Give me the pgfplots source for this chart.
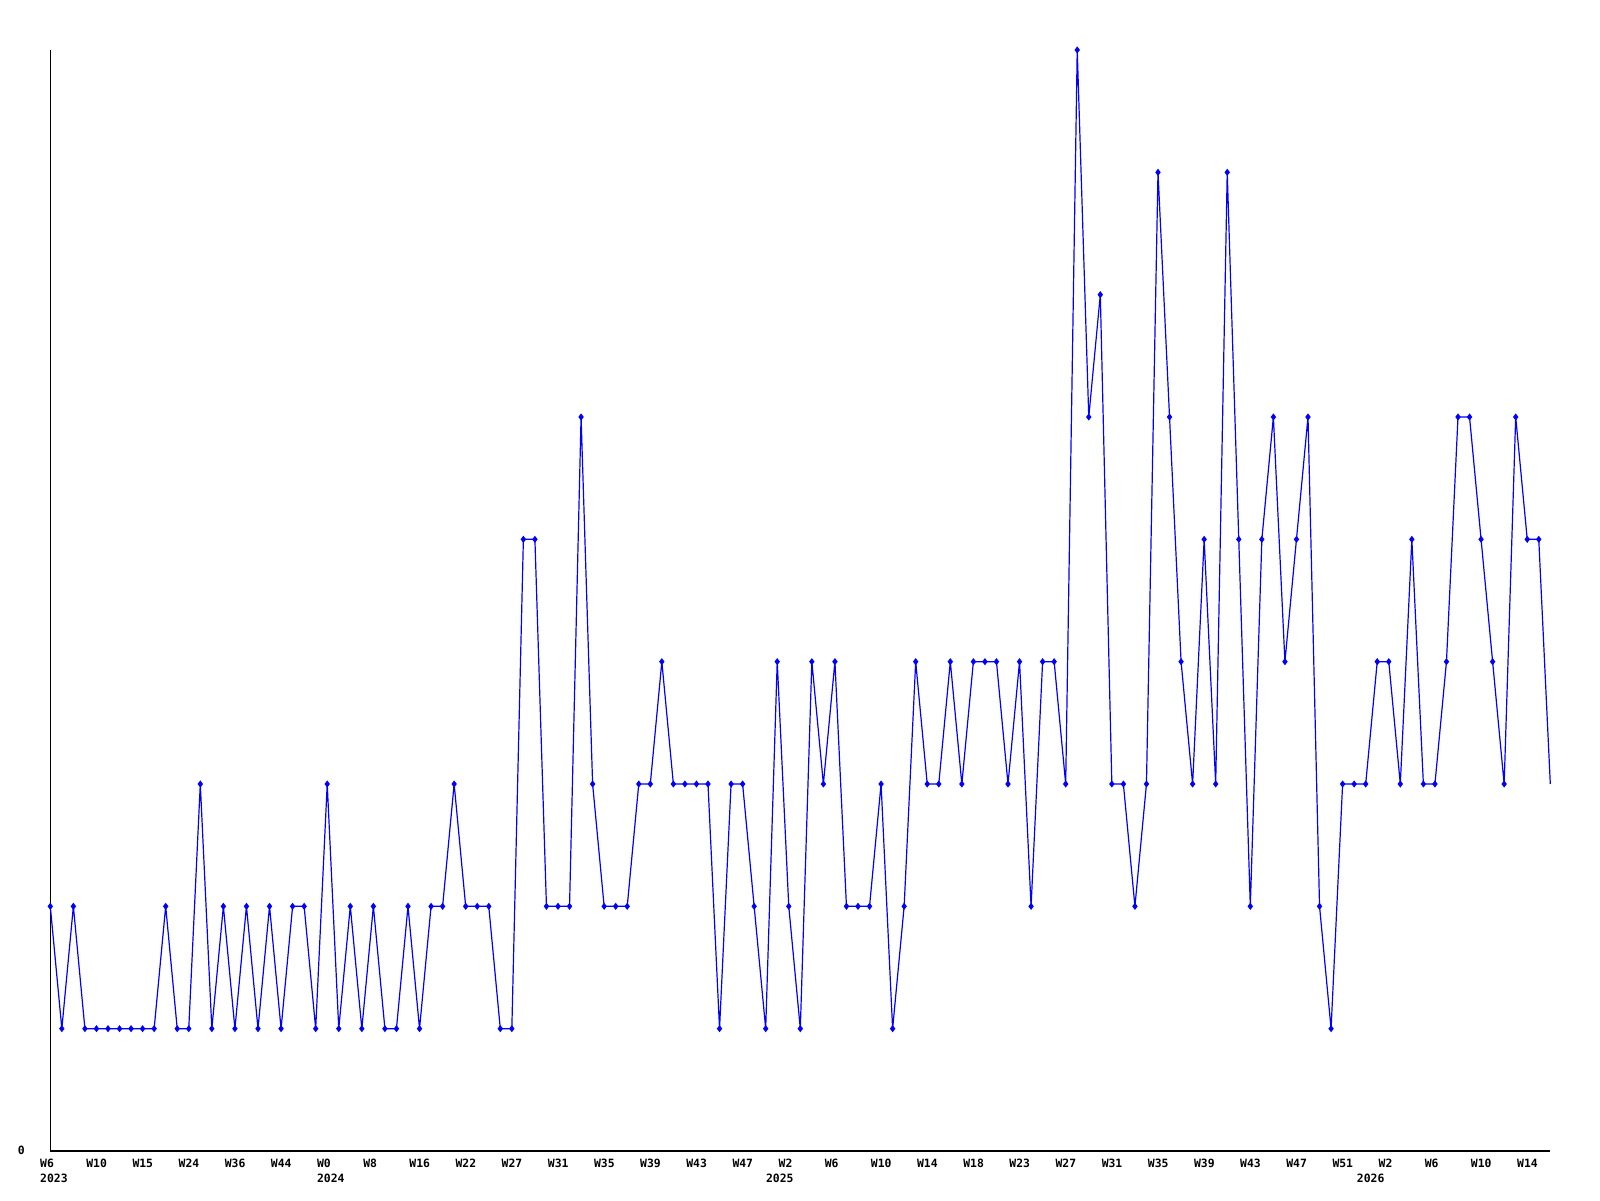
\documentclass[border=0pt]{standalone}
\usepackage{fontspec}
\setmainfont{DejaVu Sans Mono}
\usepackage{pgfplots}
\pgfplotsset{compat=1.18}
\definecolor{lineblue}{RGB}{0,0,255}
\newcommand{\lblfont}{\fontsize{5.7}{7.2}\selectfont\bfseries}
\begin{document}
\begin{tikzpicture}
\path[use as bounding box] (0,0) rectangle (800pt,600pt);
\begin{axis}[
  at={(25.15pt,24.5pt)}, anchor=south west,
  scale only axis, width=750pt, height=550.5pt,
  xmin=0, xmax=130, ymin=0, ymax=9,
  axis lines*=left,
  axis line style={black, line width=0.6pt},
  clip=false,
  major tick length=0pt,
  /pgf/number format/assume math mode=true,
  xtick={0,4,...,128},
  xticklabels={{W6\\2023},W10,W15,W24,W36,W44,{W0\\2024},W8,W16,W22,W27,W31,W35,W39,W43,W47,{W2\\\hspace*{-6.3pt}2025},W6,W10,W14,W18,W23,W27,W31,W35,W39,W43,W47,W51,{W2\\\hspace*{-10.85pt}2026},W6,W10,W14},
  xticklabel style={anchor=north west, inner sep=0pt, align=left, font=\lblfont, xshift=-5.25pt, yshift=-4pt},
  ytick={0}, yticklabels={0},
  yticklabel style={anchor=east, inner sep=0pt, font=\lblfont, xshift=-12.6pt, yshift=0.5pt},
]
\addplot[color=lineblue, line width=0.6pt, mark=diamond*, mark size=1.3pt, mark options={solid, fill=lineblue}] coordinates {
(0,2)(1,1)(2,2)(3,1)(4,1)(5,1)(6,1)(7,1)(8,1)(9,1)
(10,2)(11,1)(12,1)(13,3)(14,1)(15,2)(16,1)(17,2)(18,1)(19,2)
(20,1)(21,2)(22,2)(23,1)(24,3)(25,1)(26,2)(27,1)(28,2)(29,1)
(30,1)(31,2)(32,1)(33,2)(34,2)(35,3)(36,2)(37,2)(38,2)(39,1)
(40,1)(41,5)(42,5)(43,2)(44,2)(45,2)(46,6)(47,3)(48,2)(49,2)
(50,2)(51,3)(52,3)(53,4)(54,3)(55,3)(56,3)(57,3)(58,1)(59,3)
(60,3)(61,2)(62,1)(63,4)(64,2)(65,1)(66,4)(67,3)(68,4)(69,2)
(70,2)(71,2)(72,3)(73,1)(74,2)(75,4)(76,3)(77,3)(78,4)(79,3)
(80,4)(81,4)(82,4)(83,3)(84,4)(85,2)(86,4)(87,4)(88,3)(89,9)
(90,6)(91,7)(92,3)(93,3)(94,2)(95,3)(96,8)(97,6)(98,4)(99,3)
(100,5)(101,3)(102,8)(103,5)(104,2)(105,5)(106,6)(107,4)(108,5)(109,6)
(110,2)(111,1)(112,3)(113,3)(114,3)(115,4)(116,4)(117,3)(118,5)(119,3)
(120,3)(121,4)(122,6)(123,6)(124,5)(125,4)(126,3)(127,6)(128,5)(129,5)
};
\addplot[color=lineblue, line width=0.6pt, no marks] coordinates {(129,5)(130,3)};
\end{axis}
\end{tikzpicture}
\end{document}
